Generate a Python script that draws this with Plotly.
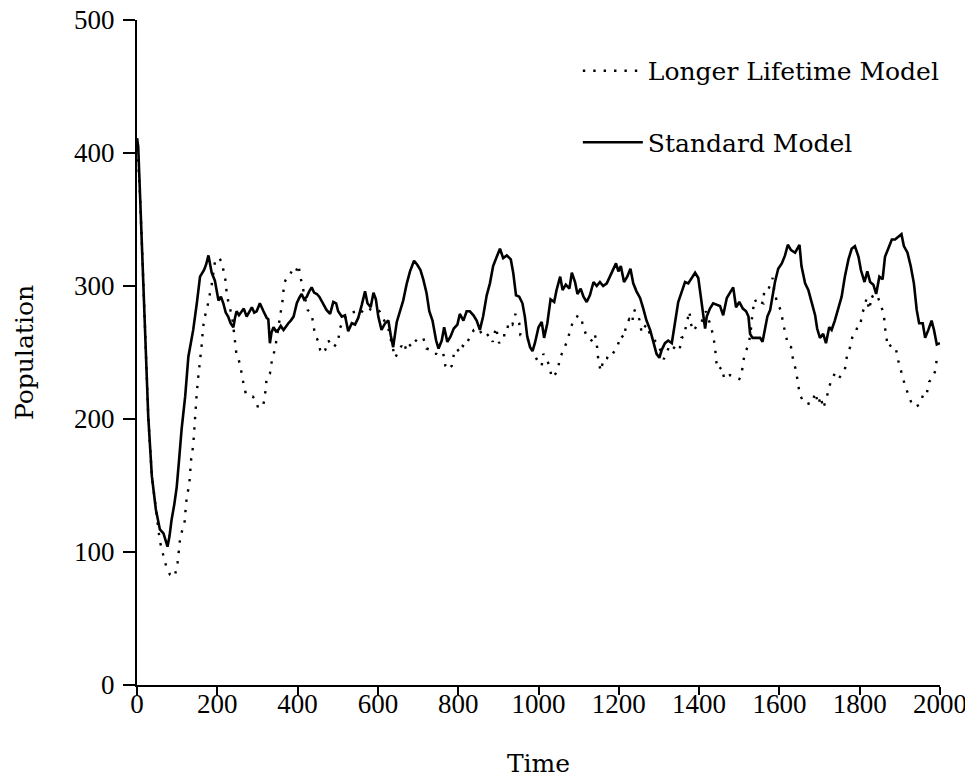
import plotly.graph_objects as go

# ---- Standard Model (solid) ----
std_time = [0, 3, 8, 14, 20, 28, 37, 47, 57, 66, 72, 76, 81, 86, 93, 99, 105, 111, 120, 128, 134, 140, 149, 157, 167, 172, 178, 182, 186, 194, 203, 209, 215, 221, 227, 233, 240, 244, 248, 254, 260, 266, 273, 280, 286, 292, 298, 306, 311, 315, 323, 327, 331, 335, 340, 346, 352, 358, 365, 371, 377, 383, 390, 394, 398, 404, 410, 416, 423, 429, 435, 441, 448, 454, 460, 466, 472, 481, 489, 496, 501, 510, 518, 526, 535, 543, 551, 560, 568, 574, 582, 589, 595, 601, 609, 618, 626, 632, 638, 647, 655, 663, 672, 680, 690, 698, 706, 713, 721, 728, 736, 745, 751, 759, 765, 773, 781, 789, 798, 804, 813, 821, 829, 838, 846, 854, 862, 871, 879, 887, 896, 904, 912, 921, 931, 937, 944, 952, 960, 966, 972, 979, 985, 991, 1000, 1008, 1014, 1022, 1030, 1039, 1045, 1054, 1060, 1068, 1077, 1083, 1091, 1097, 1105, 1112, 1120, 1128, 1137, 1145, 1153, 1161, 1170, 1178, 1186, 1193, 1199, 1205, 1213, 1221, 1229, 1236, 1244, 1253, 1261, 1269, 1278, 1286, 1294, 1301, 1307, 1315, 1323, 1332, 1340, 1348, 1356, 1365, 1373, 1381, 1390, 1398, 1404, 1409, 1415, 1419, 1427, 1435, 1444, 1452, 1460, 1469, 1477, 1485, 1492, 1500, 1509, 1517, 1523, 1527, 1533, 1542, 1552, 1558, 1564, 1570, 1577, 1583, 1589, 1597, 1606, 1614, 1621, 1629, 1639, 1650, 1655, 1664, 1672, 1680, 1689, 1694, 1701, 1709, 1716, 1724, 1730, 1738, 1747, 1755, 1763, 1772, 1780, 1788, 1797, 1803, 1812, 1819, 1826, 1834, 1841, 1849, 1857, 1863, 1871, 1880, 1888, 1896, 1904, 1910, 1919, 1927, 1935, 1942, 1948, 1957, 1963, 1971, 1979, 1985, 1992, 2000]
std_pop = [411, 405, 365, 317, 267, 202, 157, 132, 117, 114, 108, 104, 112, 124, 136, 149, 170, 192, 217, 247, 257, 267, 287, 307, 312, 316, 323, 315, 310, 304, 289, 292, 287, 280, 277, 272, 269, 276, 281, 278, 281, 283, 277, 281, 284, 280, 281, 287, 283, 281, 276, 275, 257, 265, 269, 266, 267, 270, 267, 270, 272, 274, 277, 282, 287, 291, 294, 290, 292, 296, 299, 295, 294, 292, 289, 285, 282, 279, 288, 287, 281, 277, 278, 266, 272, 271, 276, 286, 296, 287, 284, 295, 290, 277, 267, 272, 274, 263, 254, 273, 282, 289, 302, 311, 319, 316, 312, 305, 295, 281, 274, 259, 253, 259, 269, 258, 262, 268, 271, 279, 274, 281, 281, 278, 274, 267, 277, 293, 302, 315, 322, 328, 321, 323, 320, 310, 293, 292, 287, 277, 262, 254, 251, 257, 269, 273, 261, 272, 290, 288, 297, 307, 297, 301, 298, 310, 303, 294, 298, 292, 288, 293, 303, 300, 303, 300, 302, 307, 312, 317, 311, 315, 303, 307, 313, 302, 296, 291, 283, 274, 267, 258, 249, 246, 252, 257, 259, 257, 274, 288, 295, 303, 302, 306, 310, 306, 292, 278, 268, 277, 283, 287, 286, 285, 278, 291, 295, 299, 284, 288, 283, 281, 277, 264, 261, 261, 261, 258, 267, 277, 282, 292, 303, 313, 317, 323, 331, 327, 325, 331, 315, 302, 297, 288, 278, 268, 261, 264, 257, 269, 267, 274, 284, 292, 307, 320, 328, 330, 322, 312, 303, 311, 303, 301, 294, 307, 305, 322, 328, 335, 335, 337, 339, 330, 325, 315, 302, 282, 272, 272, 261, 267, 274, 267, 256, 257]

# ---- Longer Lifetime Model (dotted) ----
long_time = [0, 8, 14, 20, 28, 37, 47, 57, 66, 73, 82, 90, 95, 101, 105, 108, 118, 120, 124, 130, 132, 135, 140, 142, 144, 147, 149, 152, 155, 158, 162, 164, 169, 175, 180, 186, 194, 200, 205, 213, 215, 220, 223, 228, 237, 244, 248, 253, 258, 263, 271, 281, 288, 296, 302, 311, 315, 320, 323, 331, 336, 344, 352, 359, 364, 366, 373, 379, 385, 394, 402, 407, 413, 419, 425, 435, 439, 443, 449, 453, 456, 462, 469, 477, 486, 490, 495, 501, 504, 512, 522, 535, 547, 555, 564, 572, 584, 594, 604, 615, 626, 635, 643, 653, 659, 666, 673, 684, 692, 701, 713, 721, 731, 740, 746, 755, 763, 768, 776, 784, 790, 796, 804, 811, 817, 823, 831, 839, 852, 861, 869, 877, 886, 894, 902, 911, 919, 926, 935, 942, 946, 952, 955, 964, 972, 980, 988, 997, 1008, 1012, 1019, 1027, 1033, 1040, 1047, 1054, 1058, 1063, 1072, 1080, 1087, 1093, 1098, 1106, 1112, 1120, 1127, 1135, 1141, 1146, 1149, 1155, 1163, 1170, 1176, 1185, 1192, 1197, 1205, 1213, 1218, 1226, 1234, 1236, 1244, 1251, 1257, 1261, 1269, 1276, 1284, 1290, 1298, 1307, 1312, 1321, 1327, 1340, 1351, 1356, 1362, 1369, 1376, 1379, 1386, 1394, 1398, 1406, 1417, 1429, 1434, 1440, 1442, 1448, 1456, 1463, 1470, 1477, 1485, 1489, 1500, 1506, 1509, 1514, 1523, 1528, 1533, 1539, 1545, 1552, 1560, 1562, 1571, 1578, 1583, 1587, 1593, 1600, 1604, 1610, 1616, 1622, 1629, 1635, 1641, 1647, 1651, 1660, 1668, 1676, 1682, 1689, 1697, 1703, 1709, 1718, 1722, 1730, 1738, 1747, 1755, 1763, 1768, 1776, 1782, 1789, 1797, 1802, 1807, 1813, 1817, 1824, 1830, 1838, 1846, 1855, 1860, 1863, 1867, 1870, 1880, 1890, 1896, 1904, 1913, 1924, 1929, 1938, 1950, 1960, 1967, 1973, 1982, 1988, 1992, 1998]
long_pop = [411, 365, 317, 267, 202, 157, 130, 108, 97, 89, 83, 81, 83, 92, 103, 112, 121, 131, 142, 150, 160, 170, 180, 190, 200, 211, 220, 230, 238, 248, 258, 268, 277, 284, 291, 301, 318, 318, 321, 317, 312, 305, 296, 287, 277, 258, 248, 245, 239, 230, 219, 217, 217, 214, 208, 210, 211, 221, 231, 234, 244, 253, 268, 283, 292, 302, 306, 307, 311, 309, 316, 307, 298, 290, 282, 279, 271, 264, 260, 257, 252, 249, 252, 259, 254, 254, 256, 257, 267, 273, 278, 280, 281, 279, 282, 284, 282, 283, 281, 275, 268, 256, 246, 252, 255, 251, 258, 254, 258, 261, 261, 253, 252, 249, 249, 247, 249, 240, 237, 240, 250, 253, 250, 255, 254, 258, 262, 267, 268, 262, 262, 264, 258, 269, 257, 263, 263, 273, 271, 279, 276, 272, 263, 262, 261, 255, 250, 244, 240, 249, 246, 240, 231, 233, 236, 246, 249, 253, 259, 268, 274, 275, 278, 276, 269, 262, 261, 258, 263, 254, 244, 236, 246, 246, 245, 249, 253, 255, 263, 261, 270, 275, 272, 282, 281, 275, 265, 268, 271, 265, 261, 259, 256, 249, 245, 251, 256, 253, 251, 261, 262, 272, 281, 272, 266, 270, 272, 273, 281, 270, 264, 254, 244, 237, 239, 230, 232, 233, 232, 231, 230, 233, 242, 249, 256, 264, 280, 290, 286, 288, 287, 296, 296, 302, 306, 297, 289, 284, 281, 271, 264, 255, 254, 243, 237, 227, 218, 213, 211, 212, 212, 220, 211, 217, 208, 216, 222, 230, 234, 230, 234, 237, 247, 254, 262, 264, 272, 272, 280, 285, 291, 282, 293, 289, 291, 283, 279, 269, 262, 254, 256, 253, 244, 234, 225, 216, 212, 209, 211, 220, 219, 228, 231, 236, 245, 249]

x_ticks = [0, 200, 400, 600, 800, 1000, 1200, 1400, 1600, 1800, 2000]
y_ticks = [0, 100, 200, 300, 400, 500]

TEXT_FONT = "DejaVu Serif"
TICK_FONT = "Liberation Serif"

fig = go.Figure()
fig.add_trace(go.Scatter(
    x=long_time, y=long_pop, mode="lines", name="Longer Lifetime Model",
    line=dict(color="black", width=2.4, dash="2.4px,8px"),
    legendgroup="a",
))
fig.add_trace(go.Scatter(
    x=std_time, y=std_pop, mode="lines", name="Standard Model",
    line=dict(color="black", width=2.6),
    legendgroup="b",
))

# The page body keeps its default 8px margin, so the figure is 8px smaller
# and the plot area lands at x 137..940, y 20..685 in the window.
fig.update_layout(
    width=965, height=771,
    paper_bgcolor="white", plot_bgcolor="white",
    margin=dict(l=129, r=33, t=12, b=94, autoexpand=False),
    font=dict(family=TEXT_FONT, color="black", size=25),
    showlegend=True,
    legend=dict(
        x=0.549, y=0.958, xanchor="left", yanchor="top",
        bgcolor="rgba(0,0,0,0)", borderwidth=0,
        font=dict(family=TEXT_FONT, size=25, color="black"),
        tracegroupgap=36, itemwidth=60,
    ),
    xaxis=dict(
        range=[0, 2000], tickvals=x_ticks, ticktext=[str(v) for v in x_ticks],
        showline=True, linecolor="black", linewidth=2,
        ticks="outside", ticklen=8, tickwidth=1.5, tickcolor="black",
        showgrid=False, zeroline=False, automargin=False,
        ticklabeloverflow="allow", ticklabelstandoff=-14,
        tickfont=dict(family=TICK_FONT, size=27, color="black"),
        title=dict(text="Time", font=dict(family=TEXT_FONT, size=25), standoff=36),
    ),
    yaxis=dict(
        range=[0, 500], tickvals=y_ticks, ticktext=[str(v) for v in y_ticks],
        showline=True, linecolor="black", linewidth=2,
        ticks="outside", ticklen=12, tickwidth=1.5, tickcolor="black",
        showgrid=False, zeroline=False, automargin=False,
        ticklabeloverflow="allow", ticklabelstandoff=3,
        tickfont=dict(family=TICK_FONT, size=27, color="black"),
        title=dict(text="Population", font=dict(family=TEXT_FONT, size=25), standoff=33),
    ),
)

fig.write_html("out.html")
